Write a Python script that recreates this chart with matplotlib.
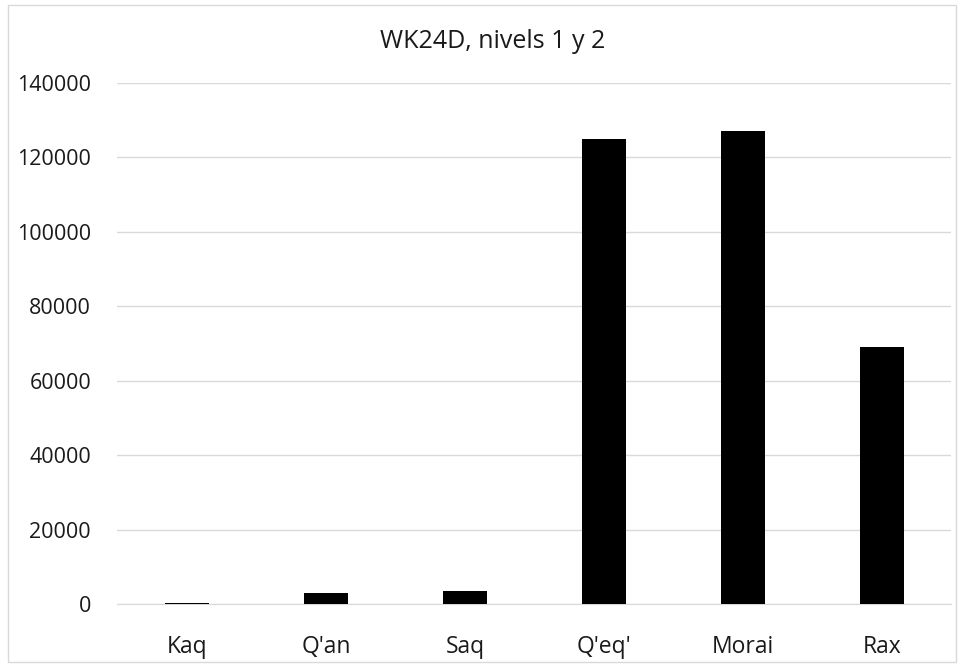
import matplotlib.pyplot as plt
from matplotlib.patches import Rectangle

# data
categories = ["Kaq", "Q'an", "Saq", "Q'eq'", "Morai", "Rax"]
values = [400, 3000, 3400, 125000, 127000, 69000]
yticks = [0, 20000, 40000, 60000, 80000, 100000, 120000, 140000]

plt.rcParams['font.family'] = ['Open Sans', 'DejaVu Sans']

fig = plt.figure(figsize=(9.62, 6.66), dpi=100)
ax = fig.add_axes([117.5 / 962, 1 - 604 / 666, 834 / 962, 521 / 666])

x = range(len(categories))
ax.bar(x, values, width=0.32, color='black', zorder=3)

ax.set_xlim(-0.5, len(categories) - 0.5)
ax.set_ylim(0, 140000)
ax.set_yticks(yticks)
ax.set_yticklabels([str(v) for v in yticks], fontsize=15.5)
ax.set_xticks(list(x))
ax.set_xticklabels(categories, fontsize=16.5)

ax.grid(axis='y', color='#d9d9d9', linewidth=1, zorder=0)
for s in ['top', 'right', 'left']:
    ax.spines[s].set_visible(False)
ax.spines['bottom'].set_color('#d9d9d9')
ax.tick_params(axis='both', length=0, colors='#1a1a1a')
ax.tick_params(axis='y', pad=19)
ax.tick_params(axis='x', pad=22)

fig.text(0.5 + 12 / 962, 1 - 41 / 666, "WK24D, nivels 1 y 2", ha='center', va='center',
         fontsize=18, color='#1a1a1a')

# outer chart border
fig.patches.append(Rectangle((8 / 962, 4 / 666), 948 / 962, 657 / 666, transform=fig.transFigure,
                             fill=False, edgecolor='#d9d9d9', linewidth=1))

fig.savefig("out.png", dpi=100)
